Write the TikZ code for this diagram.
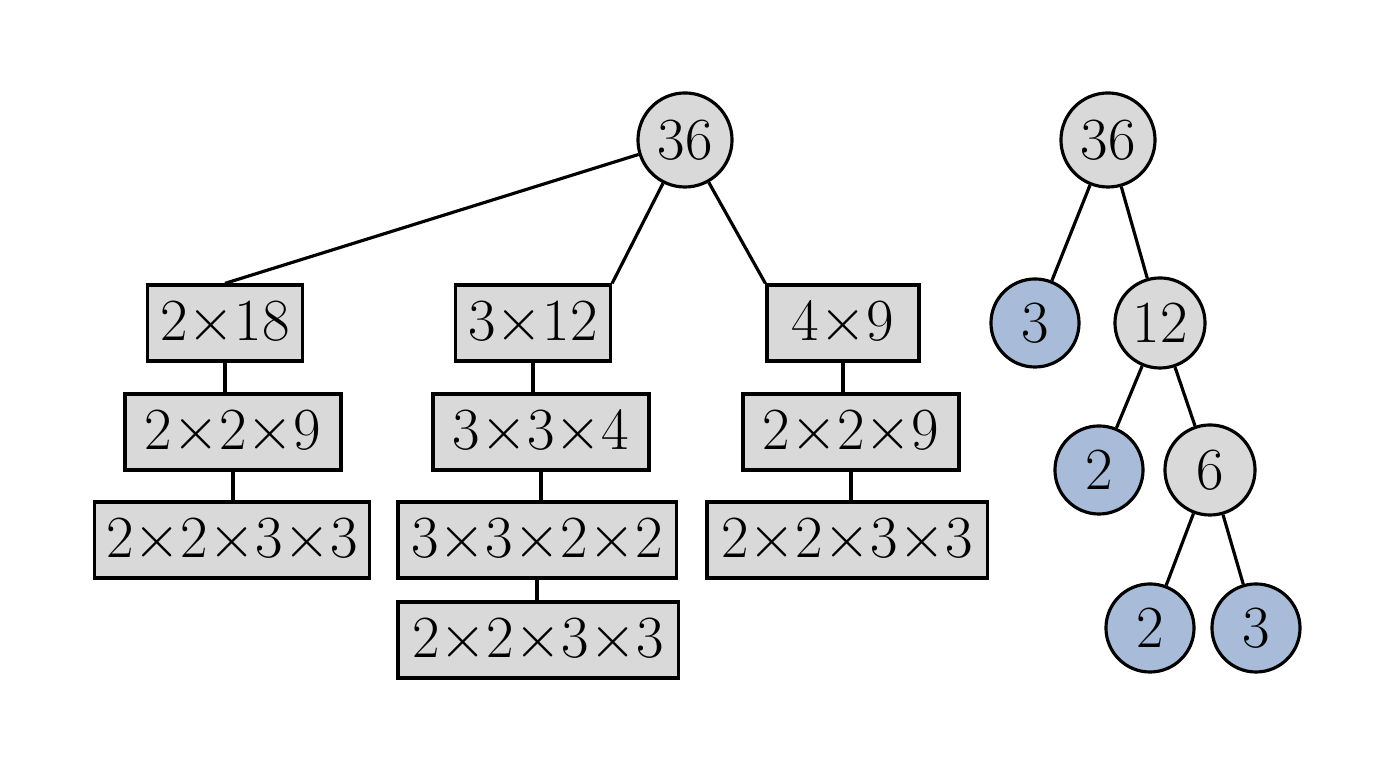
\documentclass[tikz,border=0pt]{standalone}
\usetikzlibrary{positioning}
\definecolor{boxgray}{HTML}{D9D9D9}
\definecolor{leafblue}{HTML}{A8BBD8}
\begin{document}
\begin{tikzpicture}[x=0.01cm, y=-0.01cm, line width=0.9pt,
    every node/.style={font=\fontsize{17}{20}\selectfont, inner sep=0pt},
    fac/.style={draw, fill=boxgray, minimum height=0.76cm},
    num/.style={draw, circle, fill=boxgray, minimum size=0.94cm},
    leaf/.style={num, fill=leafblue, minimum size=0.88cm}]
  \useasboundingbox (0,0) rectangle (1384,768);
  % factor lists
  \node (top) [num] at (685,140) {36};
  \node (a1) [fac, minimum width=1.55cm] at (225,323) {2$\times$18};
  \node (b1) [fac, minimum width=1.55cm] at (533,323) {3$\times$12};
  \node (c1) [fac, minimum width=1.52cm] at (843,323) {4$\times$9};
  \node (a2) [fac, minimum width=2.16cm] at (233,432) {2$\times$2$\times$9};
  \node (b2) [fac, minimum width=2.16cm] at (541,432) {3$\times$3$\times$4};
  \node (c2) [fac, minimum width=2.16cm] at (851,432) {2$\times$2$\times$9};
  \node (a3) [fac, minimum width=2.75cm] at (232,540) {2$\times$2$\times$3$\times$3};
  \node (b3) [fac, minimum width=2.78cm] at (537,540) {3$\times$3$\times$2$\times$2};
  \node (c3) [fac, minimum width=2.80cm] at (847,540) {2$\times$2$\times$3$\times$3};
  \node (b4) [fac, minimum width=2.80cm] at (538,640) {2$\times$2$\times$3$\times$3};
  \draw (top) -- (a1.north);
  \draw (top) -- (b1.north east) ++(0,0);
  \draw (top) -- (c1.north west);
  \draw (a1) -- (a1 |- a2.north);
  \draw (b1) -- (b1 |- b2.north);
  \draw (c1) -- (c1 |- c2.north);
  \draw (a2) -- (a2 |- a3.north);
  \draw (b2) -- (b2 |- b3.north);
  \draw (c2) -- (c2 |- c3.north);
  \draw (b3) -- (b3 |- b4.north);
  % factor tree
  \node (r) [num] at (1108,140) {36};
  \node (r3) [leaf] at (1035,323) {3};
  \node (r12) [num, minimum size=0.9cm] at (1160,323) {12};
  \node (r2) [leaf] at (1099,470) {2};
  \node (r6) [num, minimum size=0.9cm] at (1210,470) {6};
  \node (s2) [leaf] at (1150,628) {2};
  \node (s3) [leaf] at (1256,628) {3};
  \draw (r) -- (r3) (r) -- (r12) (r12) -- (r2) (r12) -- (r6)
    (r6) -- (s2) (r6) -- (s3);
\end{tikzpicture}
\end{document}
